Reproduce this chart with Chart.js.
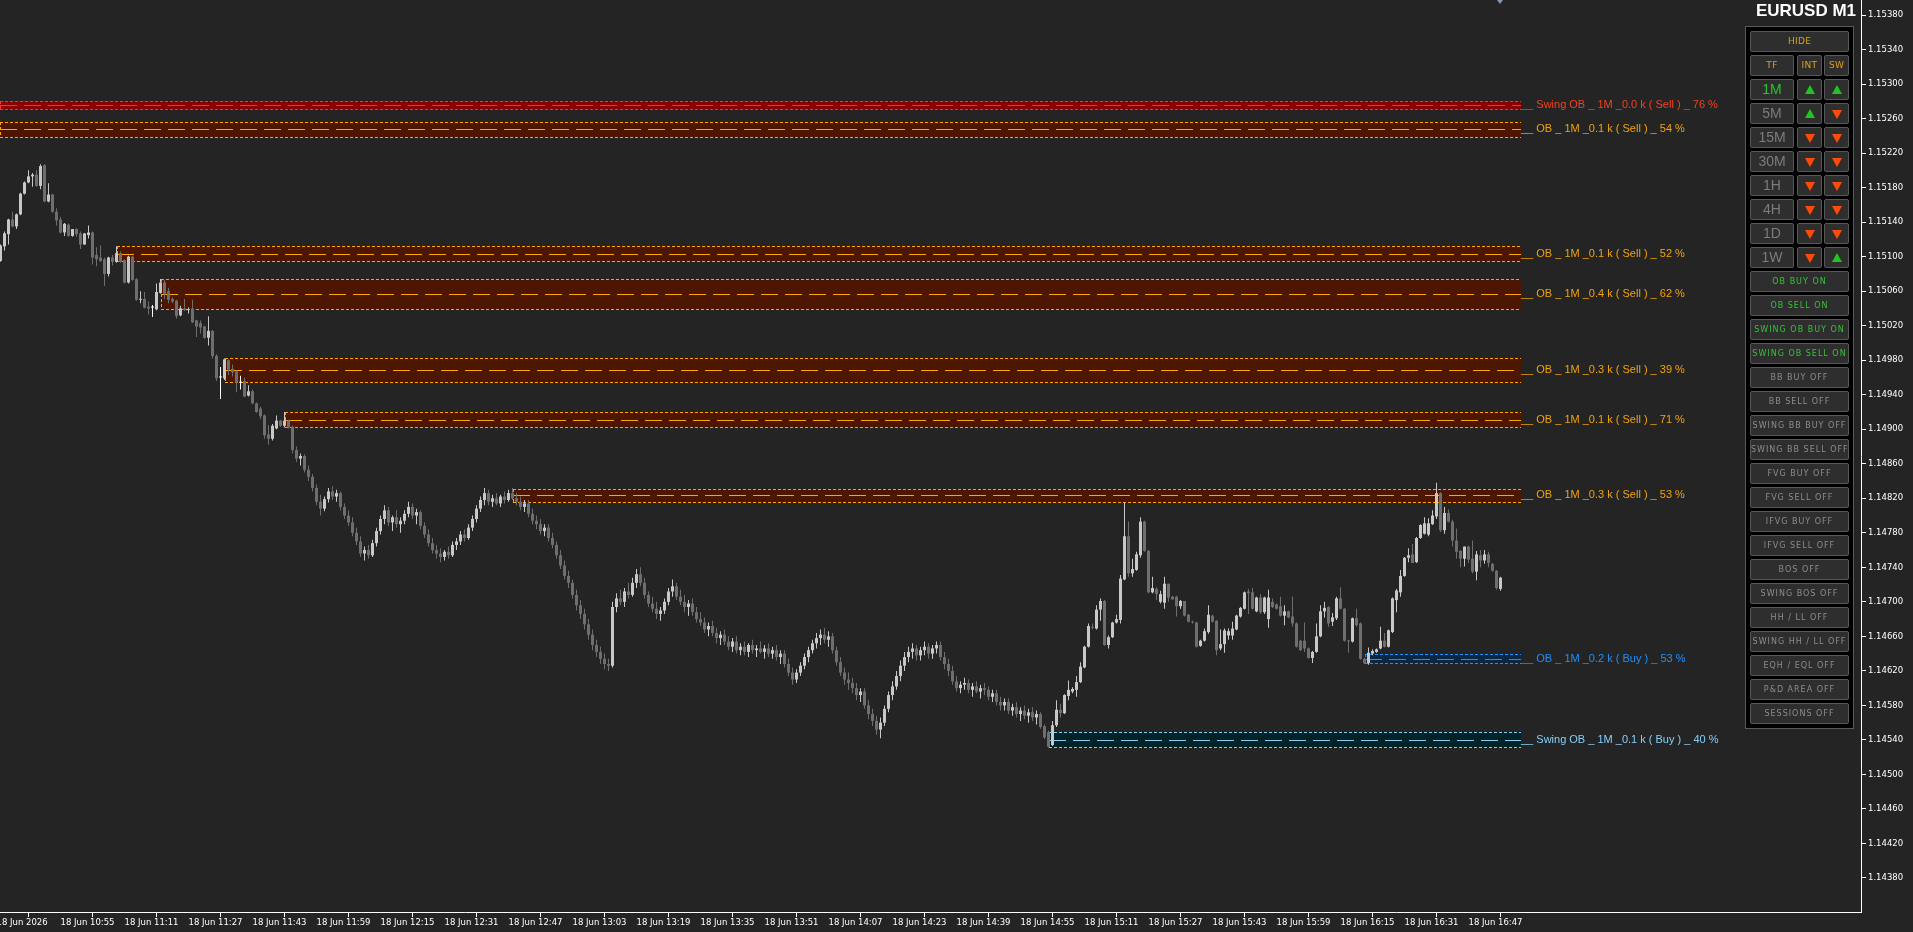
<!DOCTYPE html>
<html>
<head>
<meta charset="utf-8">
<title>EURUSD M1</title>
<script src="https://cdn.jsdelivr.net/npm/chart.js@4.4.1/dist/chart.umd.min.js"></script>
<style>
  html, body { margin: 0; padding: 0; background: #242424; overflow: hidden; }
  #wrap { position: relative; width: 1913px; height: 932px; }
  #chart { position: absolute; left: 0; top: 0; }
  #title { position: absolute; left: 1752px; top: 1px; width: 104px; text-align: right;
    font: bold 17px "Liberation Sans", Arial, sans-serif; color: #fff; }
  #panel { position: absolute; left: 1745px; top: 26px; width: 109px; height: 703px;
    box-sizing: border-box; border: 1px solid #5a5a5a; background: #000; }
  .btn { position: absolute; height: 21px; box-sizing: border-box; background: #2e2e2e;
    border: 1px solid #575757; border-radius: 2px; text-align: center; line-height: 19px;
    font-family: "DejaVu Sans", sans-serif; font-size: 8px; letter-spacing: 1px;
    color: #8c8c8c; white-space: nowrap; overflow: hidden; }
  .gold { color: #d9a21b; font-size: 9px; letter-spacing: 0.3px; }
  .tf { font-family: "Liberation Sans", Arial, sans-serif; font-size: 14px; letter-spacing: 0; color: #7c7c7c; }
  .tf.on { color: #2bc42b; }
  .on { color: #33c433; }
  .up, .down { position: absolute; left: 7px; width: 0; height: 0;
    border-left: 5px solid transparent; border-right: 5px solid transparent; }
  .up { top: 5px; border-bottom: 9px solid #22c322; }
  .down { top: 6px; border-top: 9px solid #ff4a0a; }
  #shift { position: absolute; left: 1497px; top: 0; width: 0; height: 0;
    border-left: 3px solid transparent; border-right: 3px solid transparent; border-top: 4px solid #8796aa; }
</style>
</head>
<body>
<div id="wrap">
  <canvas id="chart" width="1913" height="932"></canvas>
  <div id="shift"></div>
  <div id="title">EURUSD M1</div>
  <div id="panel"></div>
</div>
<script>
// prices are stored as points above 1.14000 (1 point = 0.00001)
const BASE = 1.14;
const firstMinute = -15; // minutes relative to 18 Jun 10:55

const opens = [
  1095,1112,1126,1143,1135,1149,1173,1186,1193,1195,
  1182,1206,1164,1172,1152,1143,1128,1137,1124,1132,
  1127,1114,1125,1128,1102,1099,1097,1080,1099,1094,
  1104,1096,1070,1100,1074,1050,1051,1042,1041,1039,
  1058,1070,1060,1051,1049,1032,1040,1038,1040,1026,
  1023,1019,1006,1014,985,960,959,980,970,967,
  954,956,939,944,930,924,916,894,889,901,
  910,904,910,903,876,866,869,853,845,832,
  816,808,819,828,822,826,810,800,792,780,
  770,756,760,754,768,782,796,806,792,798,
  790,794,802,810,800,804,788,778,768,760,
  756,752,758,754,766,770,778,774,786,796,
  808,818,826,816,820,814,822,818,826,820,
  816,810,814,802,794,790,782,786,774,766,
  754,742,730,722,708,696,686,674,662,650,
  642,634,628,626,694,704,700,712,708,722,
  732,722,708,698,692,686,690,700,712,718,
  706,700,694,698,688,680,676,668,672,664,
  658,662,654,648,654,644,648,642,650,644,
  646,642,646,640,644,636,640,628,618,610,
  618,626,636,644,652,658,662,656,660,644,
  630,618,610,606,600,592,596,580,570,562,
  552,560,576,592,602,614,626,636,642,646,
  638,644,648,640,646,650,636,628,620,608,
  600,604,606,598,602,596,600,598,590,594,
  584,580,584,574,578,570,574,568,572,566,
  570,556,549,534,557,575,571,591,596,598,
  607,624,648,671,669,691,701,650,659,676,
  679,726,776,733,737,754,793,759,711,715,
  700,699,721,706,706,695,701,685,677,676,
  649,655,665,684,678,646,651,661,661,668,
  683,692,712,711,689,705,688,680,700,697,
  695,684,689,683,675,655,655,646,635,642,
  660,689,694,677,681,704,692,655,654,681,
  675,634,629,640,642,646,655,648,665,702,
  711,730,751,755,746,774,779,778,790,799,
  826,783,803,793,771,759,750,764,750,735,
  754,748,755,744,736,715
];
const highs = [
  1114,1129,1144,1152,1150,1174,1187,1200,1197,1200,
  1207,1207,1185,1173,1156,1146,1139,1138,1132,1133,
  1129,1127,1136,1129,1111,1113,1099,1100,1102,1112,
  1106,1097,1101,1101,1075,1060,1059,1048,1044,1069,
  1074,1073,1064,1053,1050,1043,1051,1041,1050,1027,
  1026,1020,1031,1015,987,972,982,981,975,968,
  962,960,951,946,931,926,917,905,906,916,
  911,920,911,904,880,872,871,858,848,836,
  824,822,832,834,830,828,814,806,798,786,
  776,764,766,772,786,800,812,810,800,806,
  798,806,816,814,808,806,792,784,774,766,
  762,760,764,770,774,782,784,790,800,812,
  822,832,830,824,826,824,828,830,832,826,
  822,818,818,808,800,796,790,790,780,770,
  760,748,736,726,714,702,692,680,668,656,
  648,640,634,700,710,714,716,722,728,738,
  740,728,712,706,700,694,704,716,726,722,
  714,708,702,704,694,688,682,676,678,670,
  666,668,660,658,660,652,654,652,656,650,
  654,650,652,648,650,644,644,634,624,622,
  630,640,648,656,664,668,670,666,664,648,
  636,624,618,612,606,600,600,586,576,568,
  566,580,596,608,620,632,642,648,652,650,
  648,654,652,650,654,654,642,634,626,614,
  608,612,610,606,608,604,606,602,598,598,
  590,588,588,582,584,578,580,576,578,574,
  572,558,551,562,586,582,593,609,601,614,
  630,649,675,675,696,704,702,661,677,685,
  731,815,793,750,758,798,794,760,729,717,
  713,729,721,707,707,702,701,686,678,677,
  656,669,696,685,679,668,669,669,677,685,
  694,712,715,716,706,709,706,714,704,698,
  706,696,690,706,676,656,676,647,643,675,
  696,700,695,687,706,717,693,656,682,692,
  676,635,647,645,646,671,664,668,705,715,
  737,752,762,767,775,790,798,797,806,838,
  827,810,807,795,785,760,764,765,771,759,
  760,760,758,745,737,729
];
const lows = [
  1094,1107,1114,1134,1132,1148,1172,1185,1181,1181,
  1178,1163,1163,1151,1136,1127,1124,1123,1123,1123,
  1109,1114,1121,1091,1089,1094,1066,1077,1090,1093,
  1093,1069,1069,1072,1049,1046,1040,1033,1030,1038,
  1057,1051,1046,1046,1028,1031,1037,1034,1023,1007,
  1011,1005,997,982,956,935,957,963,961,943,
  946,937,938,929,919,912,889,882,887,900,
  903,902,901,872,862,858,850,840,828,812,
  800,805,815,818,816,806,796,788,776,766,
  752,748,750,752,764,778,790,788,782,786,
  780,790,798,796,790,784,774,764,756,750,
  746,748,750,752,760,766,770,772,782,792,
  804,812,812,810,812,810,814,816,818,812,
  806,804,798,790,784,778,776,770,762,750,
  738,726,716,704,690,680,668,656,644,636,
  628,622,620,624,688,696,694,704,706,716,
  718,704,694,688,680,678,686,696,706,702,
  696,688,684,684,676,672,664,660,660,652,
  650,650,644,642,640,638,638,636,640,636,
  640,634,636,634,632,628,624,614,604,606,
  614,622,630,640,646,650,652,648,640,626,
  614,604,598,594,586,584,576,564,556,546,
  542,556,572,586,598,608,620,630,634,632,
  632,638,634,634,640,632,622,614,604,596,
  594,598,594,590,594,588,592,586,584,580,
  574,574,570,568,566,562,564,560,562,558,
  553,541,531,533,555,566,570,586,594,590,
  606,623,647,668,668,678,649,646,658,675,
  675,725,729,729,736,751,758,710,710,702,
  698,692,700,702,683,692,683,676,675,647,
  648,654,663,676,638,644,641,656,656,667,
  682,691,686,691,688,686,686,670,693,691,
  683,673,681,671,647,643,642,634,629,641,
  659,682,671,672,679,691,654,641,653,671,
  633,628,627,638,641,645,647,647,664,688,
  706,729,746,745,745,773,778,776,789,796,
  781,779,792,764,750,740,741,745,733,725,
  740,744,740,735,714,713
];
const closes = [
  1113,1127,1143,1135,1149,1173,1186,1193,1195,1182,
  1205,1164,1172,1152,1142,1128,1138,1124,1132,1126,
  1114,1127,1128,1099,1097,1095,1080,1099,1094,1104,
  1094,1070,1100,1073,1050,1051,1041,1040,1041,1059,
  1070,1057,1050,1048,1031,1040,1038,1039,1024,1019,
  1018,1006,1014,985,959,960,981,969,966,954,
  954,938,944,930,920,915,893,889,904,910,
  904,910,902,876,866,869,853,845,832,816,
  808,819,828,822,826,810,800,792,780,770,
  756,760,754,768,782,796,806,792,798,790,
  794,802,810,800,804,788,778,768,760,756,
  752,758,754,766,770,778,774,786,796,808,
  818,826,816,820,814,822,818,826,820,816,
  810,814,802,794,790,782,786,774,766,754,
  742,730,722,708,696,686,674,662,650,642,
  634,628,626,694,704,700,712,708,722,732,
  722,708,698,692,686,690,700,712,718,706,
  700,694,698,688,680,676,668,672,664,658,
  662,654,648,654,644,648,642,650,644,646,
  642,646,640,644,636,640,628,618,610,618,
  626,636,644,652,658,662,656,660,644,630,
  618,610,606,600,592,596,580,570,562,552,
  560,576,592,602,614,626,636,642,646,638,
  644,648,640,646,650,636,628,620,608,600,
  604,606,598,602,596,600,598,590,594,584,
  580,584,574,578,570,574,568,572,566,570,
  555,543,532,557,575,571,592,598,599,607,
  625,648,672,670,691,701,650,659,676,680,
  727,776,733,738,755,793,759,711,716,709,
  709,721,705,703,695,701,684,677,676,648,
  655,666,685,677,644,651,667,666,669,684,
  693,711,710,692,705,688,705,705,694,692,
  684,689,682,675,648,644,646,635,642,660,
  689,693,675,682,704,692,655,654,681,673,
  634,629,641,643,645,655,648,667,704,713,
  730,751,754,745,774,789,791,791,800,826,
  783,803,793,771,758,750,764,749,735,755,
  748,755,745,736,716,728
];

// time axis: minute positions and their labels
const xTickMinutes = [-16,0,16,32,48,64,80,96,112,128,144,160,176,192,208,224,240,256,272,288,304,320,336,352];
const xTickLabels = ['18 Jun 2026','18 Jun 10:55','18 Jun 11:11','18 Jun 11:27','18 Jun 11:43','18 Jun 11:59',
  '18 Jun 12:15','18 Jun 12:31','18 Jun 12:47','18 Jun 13:03','18 Jun 13:19','18 Jun 13:35','18 Jun 13:51',
  '18 Jun 14:07','18 Jun 14:23','18 Jun 14:39','18 Jun 14:55','18 Jun 15:11','18 Jun 15:27','18 Jun 15:43',
  '18 Jun 15:59','18 Jun 16:15','18 Jun 16:31','18 Jun 16:47'];
const yTicks = [1.15380,1.15340,1.15300,1.15260,1.15220,1.15180,1.15140,1.15100,1.15060,1.15020,
  1.14980,1.14940,1.14900,1.14860,1.14820,1.14780,1.14740,1.14700,1.14660,1.14620,
  1.14580,1.14540,1.14500,1.14460,1.14420,1.14380];

// order blocks (points above 1.14000)
const obLabels = ['__ Swing OB _ 1M _0.0 k ( Sell ) _ 76 %','__ OB _ 1M _0.1 k ( Sell ) _ 54 %',
  '__ OB _ 1M _0.1 k ( Sell ) _ 52 %','__ OB _ 1M _0.4 k ( Sell ) _ 62 %','__ OB _ 1M _0.3 k ( Sell ) _ 39 %',
  '__ OB _ 1M _0.1 k ( Sell ) _ 71 %','__ OB _ 1M _0.3 k ( Sell ) _ 53 %','__ OB _ 1M _0.2 k ( Buy ) _ 53 %',
  '__ Swing OB _ 1M _0.1 k ( Buy ) _ 40 %'];
const obKind = ['swingSell','sell','sell','sell','sell','sell','sell','buy','swingBuy'];
const obStart = [-20,-20,14,25,41,56,113,326,247];
const obEnd = 365;
const obTop = [1280.3,1256.0,1112.2,1073.9,982.3,919.7,830.4,639.1,548.7];
const obBottom = [1271.0,1238.6,1094.8,1039.1,954.5,902.3,815.4,628.7,531.3];
const obMid = [1275.7,1247.8,1102.9,1056.5,968.4,910.4,823.5,633.3,539.4];

// panel contents
const tfNames = ['1M','5M','15M','30M','1H','4H','1D','1W'];
const intDir = ['up','up','down','down','down','down','down','down'];
const swDir = ['up','down','down','down','down','down','down','up'];
const toggles = ['OB BUY ON','OB SELL ON','SWING OB BUY ON','SWING OB SELL ON','BB BUY OFF','BB SELL OFF',
  'SWING BB BUY OFF','SWING BB SELL OFF','FVG BUY OFF','FVG SELL OFF','IFVG BUY OFF','IFVG SELL OFF',
  'BOS OFF','SWING BOS OFF','HH / LL OFF','SWING HH / LL OFF','EQH / EQL OFF','P&D AREA OFF','SESSIONS OFF'];

const price = v => BASE + v / 100000;

const obStyles = {
  sell:      { fill: '#4c1600', line: '#ffa500', text: '#f2a20c' },
  swingSell: { fill: '#8b0000', line: '#ff3222', text: '#f4401e' },
  buy:       { fill: '#0a2846', line: '#1e90ff', text: '#1e90ff' },
  swingBuy:  { fill: '#002327', line: '#87cefa', text: '#87cefa' }
};

const BULL = '#c8c8c8', BEAR = '#6e6e6e', DOJI = '#ffffff';
function candleColor(i) {
  if (closes[i] > opens[i]) return BULL;
  if (closes[i] < opens[i]) return BEAR;
  return DOJI;
}

const bodyData = opens.map((o, i) => ({ x: firstMinute + i, y: [price(o), price(closes[i])] }));
const wickData = lows.map((l, i) => ({ x: firstMinute + i, y: [price(l), price(highs[i])] }));

function hline(ctx, x1, x2, yy, color, dash) {
  const py = Math.round(yy) + 0.5;
  ctx.strokeStyle = color;
  ctx.lineWidth = 1;
  ctx.setLineDash(dash);
  ctx.beginPath();
  ctx.moveTo(x1, py);
  ctx.lineTo(x2, py);
  ctx.stroke();
}

const orderBlocks = {
  id: 'orderBlocks',
  beforeDatasetsDraw(chart) {
    const { ctx, chartArea: a, scales: { x, y } } = chart;
    ctx.save();
    ctx.beginPath();
    ctx.rect(a.left, a.top, a.right - a.left, a.bottom - a.top);
    ctx.clip();
    obTop.forEach((top, i) => {
      const st = obStyles[obKind[i]];
      const x1 = Math.max(a.left, Math.round(x.getPixelForValue(obStart[i])));
      const x2 = Math.round(x.getPixelForValue(obEnd));
      const yt = Math.round(y.getPixelForValue(price(top)));
      const yb = Math.round(y.getPixelForValue(price(obBottom[i])));
      ctx.fillStyle = st.fill;
      ctx.fillRect(x1, yt, x2 - x1, yb - yt + 1);
      hline(ctx, x1, x2, yt, st.line, [3, 2]);
      hline(ctx, x1, x2, yb, st.line, [3, 2]);
      hline(ctx, x1, x2, y.getPixelForValue(price(obMid[i])), st.line, [17, 7]);
      // dotted left edge
      ctx.setLineDash([3, 2]);
      ctx.beginPath();
      ctx.moveTo(x1 + 0.5, yt);
      ctx.lineTo(x1 + 0.5, yb + 1);
      ctx.stroke();
    });
    ctx.restore();
  },
  afterDraw(chart) {
    const { ctx, scales: { x, y } } = chart;
    ctx.save();
    ctx.font = '11px "Liberation Sans", Arial, sans-serif';
    ctx.textBaseline = 'middle';
    ctx.textAlign = 'left';
    obLabels.forEach((txt, i) => {
      ctx.fillStyle = obStyles[obKind[i]].text;
      ctx.fillText(txt, Math.round(x.getPixelForValue(obEnd)), Math.round(y.getPixelForValue(price(obMid[i]))));
    });
    ctx.restore();
  }
};

const axisFont = { family: '"DejaVu Sans", "Liberation Sans", sans-serif', size: 8.5 };

new Chart(document.getElementById('chart'), {
  type: 'bar',
  data: {
    datasets: [
      { data: bodyData, backgroundColor: c => candleColor(c.dataIndex), barThickness: 3, minBarLength: 1,
        grouped: false, borderWidth: 0, inflateAmount: 0 },
      { data: wickData, backgroundColor: c => candleColor(c.dataIndex), barThickness: 1,
        grouped: false, borderWidth: 0, inflateAmount: 0 }
    ]
  },
  options: {
    responsive: false,
    devicePixelRatio: 1,
    animation: false,
    events: [],
    layout: { padding: 0, autoPadding: false },
    plugins: { legend: { display: false }, tooltip: { enabled: false } },
    scales: {
      x: {
        type: 'linear',
        min: -15.125,
        max: 450.125,
        offset: false,
        grid: { drawOnChartArea: false, color: '#ffffff', tickLength: 5 },
        border: { color: '#ffffff' },
        ticks: { color: '#ffffff', font: axisFont, align: 'start', padding: 1, maxRotation: 0, autoSkip: false,
          callback: (v, i) => xTickLabels[i] },
        afterBuildTicks: s => { s.ticks = xTickMinutes.map(v => ({ value: v })); },
        afterFit: s => { s.height = 20; s.paddingLeft = 0; s.paddingRight = 0; }
      },
      y: {
        type: 'linear',
        position: 'right',
        min: 1.143406,
        max: 1.153974,
        grid: { drawOnChartArea: false, color: '#ffffff', tickLength: 5 },
        border: { color: '#ffffff' },
        ticks: { color: '#ffffff', font: axisFont, padding: 2, callback: v => v.toFixed(5) },
        afterBuildTicks: s => { s.ticks = yTicks.map(v => ({ value: v })); },
        afterFit: s => { s.width = 52; s.paddingTop = 0; s.paddingBottom = 0; }
      }
    }
  },
  plugins: [orderBlocks]
});

// right-hand control panel
const wrap = document.getElementById('wrap');
function addBtn(left, top, width, text, cls) {
  const b = document.createElement('div');
  b.className = 'btn ' + (cls || '');
  b.style.left = left + 'px';
  b.style.top = top + 'px';
  b.style.width = width + 'px';
  if (text) b.textContent = text;
  wrap.appendChild(b);
  return b;
}
function addArrow(b, dir) {
  const t = document.createElement('div');
  t.className = dir;
  b.appendChild(t);
}
addBtn(1750, 31, 99, 'HIDE', 'gold');
addBtn(1750, 55, 44, 'TF', 'gold');
addBtn(1797, 55, 25, 'INT', 'gold');
addBtn(1824, 55, 25, 'SW', 'gold');
tfNames.forEach((name, i) => {
  const top = 79 + i * 24;
  addBtn(1750, top, 44, name, 'tf' + (i === 0 ? ' on' : ''));
  addArrow(addBtn(1797, top, 25, ''), intDir[i]);
  addArrow(addBtn(1824, top, 25, ''), swDir[i]);
});
toggles.forEach((name, i) => {
  addBtn(1750, 271 + i * 24, 99, name, name.endsWith(' ON') ? 'on' : '');
});
</script>
</body>
</html>
